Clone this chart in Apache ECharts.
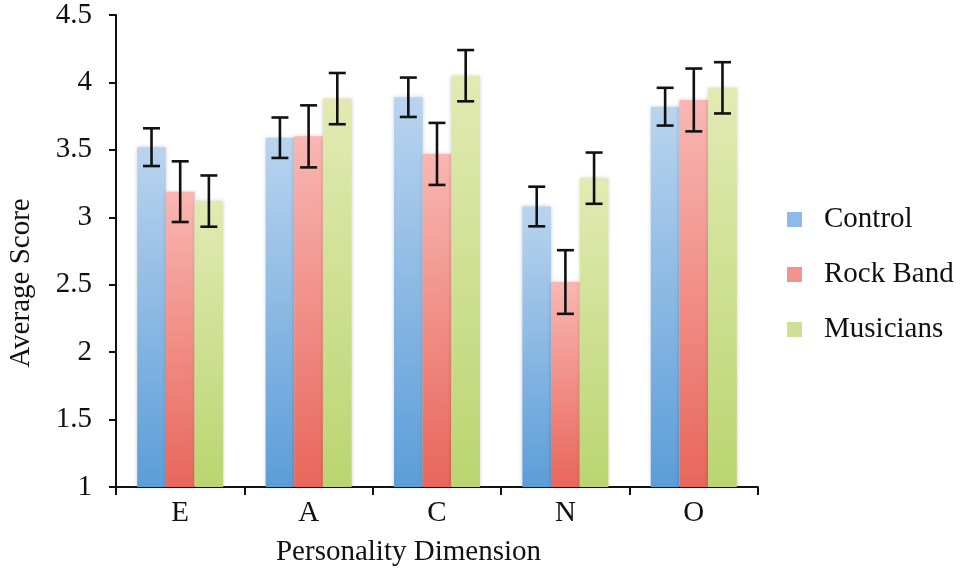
<!DOCTYPE html>
<html>
<head>
<meta charset="utf-8">
<script src="https://cdn.jsdelivr.net/npm/echarts@6/dist/echarts.min.js"></script>
<style>html,body{margin:0;padding:0;background:#fff}#c{width:962px;height:573px}</style>
</head>
<body>
<div id="c"></div>
<script>
var categories = ['E', 'A', 'C', 'N', 'O'];
var seriesNames = ['Control', 'Rock Band', 'Musicians'];
var control = [3.52, 3.59, 3.89, 3.08, 3.82];
var rockBand = [3.19, 3.60, 3.47, 2.52, 3.87];
var musicians = [3.12, 3.88, 4.05, 3.29, 3.96];
var controlErr = [0.14, 0.15, 0.146, 0.147, 0.14];
var rockBandErr = [0.225, 0.23, 0.23, 0.236, 0.233];
var musiciansErr = [0.19, 0.19, 0.19, 0.19, 0.19];
var yTicks = ['1', '1.5', '2', '2.5', '3', '3.5', '4', '4.5'];

var FONT = "'Liberation Serif', 'Times New Roman', serif";
var GAP = 0.33;
var values = [control, rockBand, musicians];
var errs = [controlErr, rockBandErr, musiciansErr];
var grads = [
  ['#bad4ef', '#5b9dd8'],
  ['#f9b7b3', '#e8665b'],
  ['#e2eab3', '#bad570']
];
var legendColors = ['#8dbbe6', '#f29590', '#cfe096'];

function grad(c) {
  return new echarts.graphic.LinearGradient(0, 0, 0, 1, [
    { offset: 0, color: c[0] }, { offset: 1, color: c[1] }
  ]);
}

var series = [];
seriesNames.forEach(function (name, i) {
  series.push({
    name: name,
    type: 'bar',
    data: values[i],
    barGap: '0%',
    barCategoryGap: (GAP * 100) + '%',
    itemStyle: {
      color: grad(grads[i]),
      shadowBlur: 4,
      shadowColor: 'rgba(0,0,0,0.18)'
    }
  });
});
seriesNames.forEach(function (name, i) {
  var data = values[i].map(function (v, k) {
    return [k, v - errs[i][k], v + errs[i][k]];
  });
  series.push({
    type: 'custom',
    name: name + ' err',
    silent: true,
    z: 10,
    data: data,
    encode: { x: 0, y: [1, 2] },
    renderItem: function (params, api) {
      var k = api.value(0);
      var lo = api.coord([k, api.value(1)]);
      var hi = api.coord([k, api.value(2)]);
      var band = api.size([1, 0])[0];
      var bw = band * (1 - GAP) / 3;
      var x = lo[0] + (i - 1) * bw;
      var cap = 8.5;
      var st = { stroke: '#111', lineWidth: 2.6 };
      return {
        type: 'group',
        children: [
          { type: 'line', shape: { x1: x, y1: lo[1], x2: x, y2: hi[1] }, style: st },
          { type: 'line', shape: { x1: x - cap, y1: lo[1], x2: x + cap, y2: lo[1] }, style: st },
          { type: 'line', shape: { x1: x - cap, y1: hi[1], x2: x + cap, y2: hi[1] }, style: st }
        ]
      };
    }
  });
});

var chart = echarts.init(document.getElementById('c'));
chart.setOption({
  animation: false,
  backgroundColor: '#fff',
  textStyle: { fontFamily: FONT },
  grid: { left: 116, right: 204, top: 15, bottom: 86, containLabel: false, outerBoundsMode: 'none' },
  legend: {
    orient: 'vertical',
    left: 787,
    top: 205,
    padding: 0,
    itemWidth: 15,
    itemHeight: 15,
    itemGap: 26,
    icon: 'rect',
    data: seriesNames.map(function (n, i) {
      return { name: n, itemStyle: { color: legendColors[i] } };
    }),
    textStyle: { fontFamily: FONT, fontSize: 29, color: '#111', padding: [0, 0, 0, 17] }
  },
  xAxis: {
    type: 'category',
    data: categories,
    name: 'Personality Dimension',
    nameLocation: 'middle',
    nameGap: 51,
    nameTextStyle: { fontFamily: FONT, fontSize: 29, color: '#111', padding: [0, 57, 0, 0] },
    axisLine: { lineStyle: { color: '#111', width: 2 } },
    axisTick: { show: true, length: 8, lineStyle: { color: '#111', width: 2 }, alignWithLabel: false },
    axisLabel: { fontFamily: FONT, fontSize: 29, color: '#111', margin: 12 }
  },
  yAxis: {
    type: 'value',
    min: 1,
    max: 4.5,
    interval: 0.5,
    name: 'Average Score',
    nameLocation: 'middle',
    nameGap: 80,
    nameRotate: 90,
    nameTextStyle: { fontFamily: FONT, fontSize: 29, color: '#111', padding: [0, 64, 0, 0] },
    splitLine: { show: false },
    axisLine: { show: true, lineStyle: { color: '#111', width: 2 } },
    axisTick: { show: true, length: 7, lineStyle: { color: '#111', width: 2 } },
    axisLabel: {
      fontFamily: FONT, fontSize: 29, color: '#111', margin: 24,
      formatter: function (v) { return yTicks[Math.round((v - 1) / 0.5)]; }
    }
  },
  series: series
});
</script>
</body>
</html>
